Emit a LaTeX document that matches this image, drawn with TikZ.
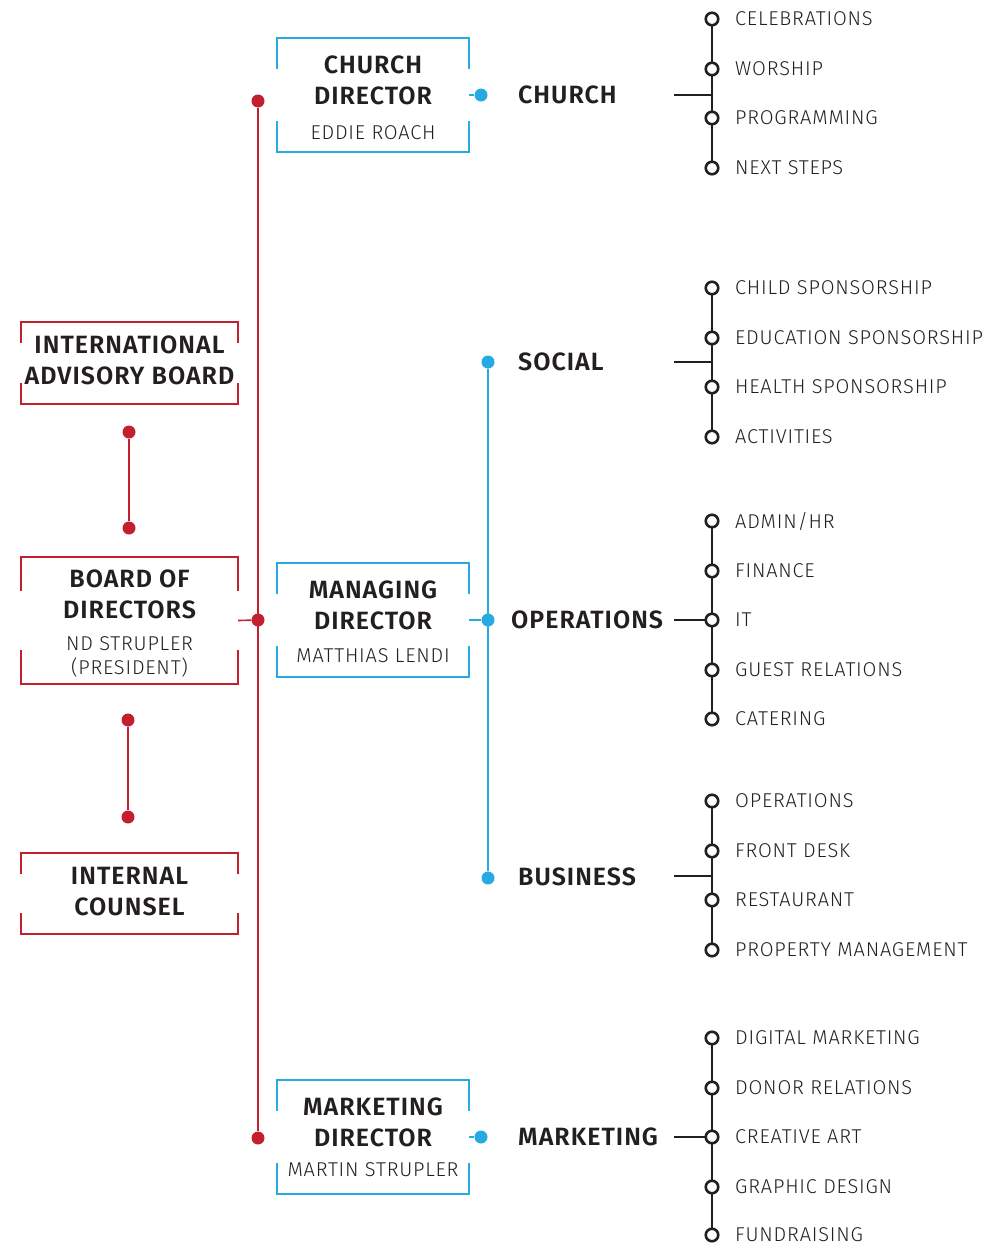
\documentclass[tikz,border=0pt]{standalone}
\usepackage{fontspec}
\setmainfont{Fira Sans}
\newfontfamily\titlefont[LetterSpace=4]{Fira Sans SemiBold}
\newfontfamily\itemfont[LetterSpace=4]{Fira Sans Light}
\definecolor{boardred}{HTML}{C3202F}
\definecolor{mgmtblue}{HTML}{27AAE1}
\definecolor{inkgray}{HTML}{231F20}

% open bracket frame round a named box node: #1 node, #2 colour, #3 tick length
\newcommand{\bracketframe}[3]{
  \draw[#2, line width=1.6pt] (#1.north west) ++(0,#3) -- (#1.north west) -- (#1.north east) -- ++(0,#3);
  \draw[#2, line width=1.6pt] (#1.south west) ++(0,-#3) -- (#1.south west) -- (#1.south east) -- ++(0,-#3);
}

\tikzset{
  boxnode/.style={rectangle, inner sep=0pt},
  title/.style={font=\titlefont\fontsize{25}{31}\selectfont, text=inkgray, align=center, inner sep=0pt},
  person/.style={font=\itemfont\fontsize{20}{24}\selectfont, text=inkgray, align=center, inner sep=0pt},
  dept/.style={font=\titlefont\fontsize{25}{31}\selectfont, text=inkgray, anchor=west, inner sep=0pt},
  item/.style={font=\itemfont\fontsize{20}{24}\selectfont, text=inkgray, anchor=west, inner sep=0pt},
  reddot/.style={circle, fill=boardred, inner sep=0pt, minimum size=13pt},
  bluedot/.style={circle, fill=mgmtblue, inner sep=0pt, minimum size=13pt},
  ring/.style={circle, draw=inkgray, fill=white, line width=2.6pt, inner sep=0pt, minimum size=12.5pt},
  redline/.style={draw=boardred, line width=1.6pt},
  blueline/.style={draw=mgmtblue, line width=1.6pt},
  listline/.style={draw=inkgray, line width=1.6pt}
}

\begin{document}
\begin{tikzpicture}[x=1pt, y=-1pt]
  \useasboundingbox (0,0) rectangle (1005,1245);

  % board side (red)
  \node[boxnode, minimum width=217pt, minimum height=82pt] (iab) at (129.5,363) {};
  \node[title] (iabtext) at (129.5,360) {INTERNATIONAL\\ADVISORY BOARD};
  \node[boxnode, minimum width=217pt, minimum height=127pt] (bod) at (129.5,620.5) {};
  \node[title] (bodtext) at (129.5,594.5) {BOARD OF\\DIRECTORS};
  \node[person] (bodname) at (129.5,657) {ND STRUPLER\\(PRESIDENT)};
  \node[boxnode, minimum width=217pt, minimum height=81pt] (ic) at (129.5,893.5) {};
  \node[title] (ictext) at (129.5,891.5) {INTERNAL\\COUNSEL};
  \bracketframe{iab}{boardred}{21}
  \bracketframe{bod}{boardred}{34}
  \bracketframe{ic}{boardred}{21}

  \node[reddot] (iaba) at (129,432) {};
  \node[reddot] (bodb) at (129,528) {};
  \node[reddot] (boda) at (128,720) {};
  \node[reddot] (icb) at (128,817) {};
  \draw[redline] (iaba) -- (bodb);
  \draw[redline] (boda) -- (icb);

  \node[reddot] (spinetop) at (258,101) {};
  \node[reddot] (spinemid) at (258,620) {};
  \node[reddot] (spinebot) at (258,1138) {};
  \draw[redline] (spinetop) -- (spinebot);
  \draw[redline] (bod.east) -- (spinemid);

  % directors (blue)
  \node[boxnode, minimum width=192pt, minimum height=114pt] (cd) at (373,95) {};
  \node[title] (cdtext) at (373,80.5) {CHURCH\\DIRECTOR};
  \node[person] (cdname) at (373,133) {EDDIE ROACH};
  \node[boxnode, minimum width=192pt, minimum height=114pt] (md) at (373,620) {};
  \node[title] (mdtext) at (373,605.5) {MANAGING\\DIRECTOR};
  \node[person] (mdname) at (373,656) {MATTHIAS LENDI};
  \node[boxnode, minimum width=192pt, minimum height=114pt] (mkd) at (373,1137) {};
  \node[title] (mkdtext) at (373,1122.5) {MARKETING\\DIRECTOR};
  \node[person] (mkdname) at (373,1170) {MARTIN STRUPLER};
  \bracketframe{cd}{mgmtblue}{31}
  \bracketframe{md}{mgmtblue}{31}
  \bracketframe{mkd}{mgmtblue}{31}

  \node[bluedot] (cddot) at (481,95) {};
  \node[bluedot] (mkddot) at (481,1137) {};
  \node[bluedot] (socdot) at (488,362) {};
  \node[bluedot] (opsdot) at (488,620) {};
  \node[bluedot] (busdot) at (488,878) {};
  \draw[blueline] (cd.east) -- (cddot);
  \draw[blueline] (mkd.east) -- (mkddot);
  \draw[blueline] (md.east) -- (opsdot);
  \draw[blueline] (socdot) -- (busdot);

  % departments
  \node[dept] (church) at (518,95) {CHURCH};
  \node[dept] (social) at (518,362) {SOCIAL};
  \node[dept] (ops) at (511,620) {OPERATIONS};
  \node[dept] (business) at (518,877) {BUSINESS};
  \node[dept] (marketing) at (518,1137) {MARKETING};

  % teams
  \foreach \n/\y/\t in {1/19/CELEBRATIONS, 2/69/WORSHIP, 3/118/PROGRAMMING, 4/168/NEXT STEPS}{
    \coordinate (ch\n) at (712,\y);
    \node[item] (chitem\n) at (735,\y) {\t};
  }
  \foreach \n/\y/\t in {1/288/CHILD SPONSORSHIP, 2/338/EDUCATION SPONSORSHIP, 3/387/HEALTH SPONSORSHIP, 4/437/ACTIVITIES}{
    \coordinate (so\n) at (712,\y);
    \node[item] (soitem\n) at (735,\y) {\t};
  }
  \foreach \n/\y/\t in {1/521/{ADMIN/HR}, 2/571/FINANCE, 3/620/IT, 4/670/GUEST RELATIONS, 5/719/CATERING}{
    \coordinate (op\n) at (712,\y);
    \node[item] (opitem\n) at (735,\y) {\t};
  }
  \foreach \n/\y/\t in {1/801/OPERATIONS, 2/851/FRONT DESK, 3/900/RESTAURANT, 4/950/PROPERTY MANAGEMENT}{
    \coordinate (bu\n) at (712,\y);
    \node[item] (buitem\n) at (735,\y) {\t};
  }
  \foreach \n/\y/\t in {1/1038/DIGITAL MARKETING, 2/1088/DONOR RELATIONS, 3/1137/CREATIVE ART, 4/1187/GRAPHIC DESIGN, 5/1235/FUNDRAISING}{
    \coordinate (mk\n) at (712,\y);
    \node[item] (mkitem\n) at (735,\y) {\t};
  }

  \coordinate (chstub) at (674,95);
  \coordinate (sostub) at (674,362);
  \coordinate (opstub) at (674,620);
  \coordinate (bustub) at (674,876);
  \coordinate (mkstub) at (674,1137);
  \draw[listline] (ch1) -- (ch4);
  \draw[listline] (chstub) -- (chstub -| ch1);
  \draw[listline] (so1) -- (so4);
  \draw[listline] (sostub) -- (sostub -| so1);
  \draw[listline] (op1) -- (op5);
  \draw[listline] (opstub) -- (op3);
  \draw[listline] (bu1) -- (bu4);
  \draw[listline] (bustub) -- (bustub -| bu1);
  \draw[listline] (mk1) -- (mk5);
  \draw[listline] (mkstub) -- (mk3);

  \foreach \n in {1,...,4}{
    \node[ring] at (ch\n) {};
    \node[ring] at (so\n) {};
    \node[ring] at (bu\n) {};
  }
  \foreach \n in {1,...,5}{
    \node[ring] at (op\n) {};
    \node[ring] at (mk\n) {};
  }
\end{tikzpicture}
\end{document}
